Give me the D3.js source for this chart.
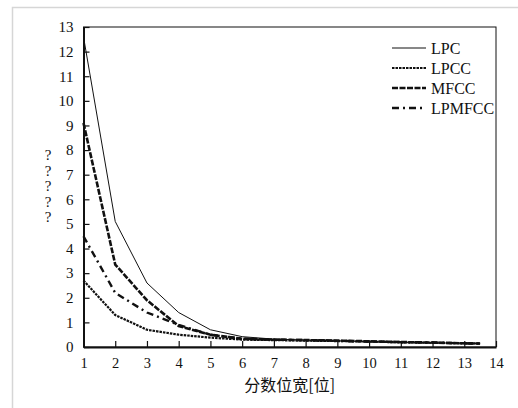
<!DOCTYPE html>
<html>
<head>
<meta charset="utf-8">
<script src="https://cdn.jsdelivr.net/npm/d3@7"></script>
<style>
  body { margin: 0; background: #fff; }
  svg text { font-family: "Liberation Serif", "DejaVu Serif", serif; fill: #111; }
</style>
</head>
<body>
<svg id="chart"></svg>
<script>
// bit widths on the x axis
const bitWidths = [1, 2, 3, 4, 5, 6, 7, 8, 9, 10, 11, 12, 13, 13.5];

// error values, one array per feature
const lpcValues    = [12.6, 5.1, 2.6, 1.4, 0.7, 0.42, 0.32, 0.28, 0.25, 0.22, 0.19, 0.17, 0.15, 0.14];
const lpccValues   = [2.7, 1.3, 0.7, 0.5, 0.38, 0.3, 0.28, 0.26, 0.24, 0.22, 0.19, 0.17, 0.15, 0.14];
const mfccValues   = [9.1, 3.35, 1.9, 0.85, 0.5, 0.33, 0.3, 0.28, 0.26, 0.23, 0.2, 0.18, 0.15, 0.14];
const lpmfccValues = [4.5, 2.2, 1.4, 0.9, 0.5, 0.34, 0.3, 0.28, 0.25, 0.22, 0.2, 0.18, 0.15, 0.14];

const seriesNames = ['LPC', 'LPCC', 'MFCC', 'LPMFCC'];
const xTicks = [1, 2, 3, 4, 5, 6, 7, 8, 9, 10, 11, 12, 13, 14];
const yTicks = [0, 1, 2, 3, 4, 5, 6, 7, 8, 9, 10, 11, 12, 13];
const xLabel = '分数位宽[位]';
const yLabel = ['?', '?', '?', '?', '?'];

const series = [
    { name: seriesNames[0], values: lpcValues,    width: 1,   dash: null },
    { name: seriesNames[1], values: lpccValues,   width: 2.2, dash: '2.5,1' },
    { name: seriesNames[2], values: mfccValues,   width: 2.6, dash: '6,1.5' },
    { name: seriesNames[3], values: lpmfccValues, width: 2.4, dash: '7,4,2,4' }
];

const serif = '"Liberation Serif", "Times New Roman", "DejaVu Serif", serif';

const width = 518, height = 408;
const margin = { top: 27, right: 22, bottom: 61, left: 83.5 };
const innerW = width - margin.left - margin.right;
const innerH = height - margin.top - margin.bottom;

const svg = d3.select('#chart')
    .attr('width', width)
    .attr('height', height);

// light outer frame (only top and left edges show)
svg.append('path')
    .attr('d', `M12.5,${height} V7.5 H${width}`)
    .attr('fill', 'none')
    .attr('stroke', '#d6d6d6')
    .attr('stroke-width', 1.5);

const chart = svg.append('g')
    .attr('transform', `translate(${margin.left},${margin.top})`);

const xScale = d3.scaleLinear().domain([1, 14]).range([0, innerW]);
const yScale = d3.scaleLinear().domain([0, 13]).range([innerH, 0]);

// plot box, thin top and right
chart.append('rect')
    .attr('width', innerW)
    .attr('height', innerH)
    .attr('fill', 'none')
    .attr('stroke', '#111')
    .attr('stroke-width', 1);

// axes with inward ticks
const yAxisG = chart.append('g')
    .call(d3.axisLeft(yScale).tickValues(yTicks).tickSizeInner(-6).tickSizeOuter(0).tickPadding(10));
const xAxisG = chart.append('g')
    .attr('transform', `translate(0,${innerH})`)
    .call(d3.axisBottom(xScale).tickValues(xTicks).tickSizeInner(-6).tickSizeOuter(0).tickPadding(11));

[xAxisG, yAxisG].forEach(g => {
    g.attr('font-family', serif).attr('font-size', 15);
    g.select('.domain').attr('stroke', '#111').attr('stroke-width', 2);
    g.selectAll('.tick line').attr('stroke', '#111').attr('stroke-width', 1.2);
    g.selectAll('.tick text')
        .style('font-family', serif)
        .style('font-size', '15px')
        .attr('fill', '#222');
});
xAxisG.selectAll('.tick text').style('font-size', '14.5px');

// lines
const line = d3.line()
    .x((d, i) => xScale(bitWidths[i]))
    .y(d => yScale(d));

chart.selectAll('.series')
    .data(series)
    .join('path')
    .attr('class', 'series')
    .attr('d', d => line(d.values))
    .attr('fill', 'none')
    .attr('stroke', '#111')
    .attr('stroke-width', d => d.width)
    .attr('stroke-dasharray', d => d.dash);

// legend
const legend = chart.append('g')
    .attr('transform', `translate(${392 - margin.left},${48 - margin.top})`);

const rows = legend.selectAll('g')
    .data(series)
    .join('g')
    .attr('transform', (d, i) => `translate(0,${i * 20})`);

rows.append('line')
    .attr('x1', 0).attr('x2', 34)
    .attr('stroke', '#111')
    .attr('stroke-width', d => d.width)
    .attr('stroke-dasharray', d => d.dash);

rows.append('text')
    .attr('x', 39)
    .attr('dy', '0.35em')
    .style('font-family', serif)
    .style('font-size', '16px')
    .text(d => d.name);

// axis titles
svg.append('text')
    .attr('x', margin.left + innerW / 2)
    .attr('y', 391)
    .attr('text-anchor', 'middle')
    .style('font-family', '"Noto Sans CJK SC", sans-serif')
    .style('font-size', '16px')
    .attr('fill', '#333')
    .text(xLabel);

svg.append('g')
    .selectAll('text')
    .data(yLabel)
    .join('text')
    .attr('x', 48)
    .attr('y', (d, i) => 160 + i * 15.5)
    .attr('text-anchor', 'middle')
    .style('font-family', serif)
    .style('font-size', '15px')
    .attr('fill', '#333')
    .text(d => d);
</script>
</body>
</html>
